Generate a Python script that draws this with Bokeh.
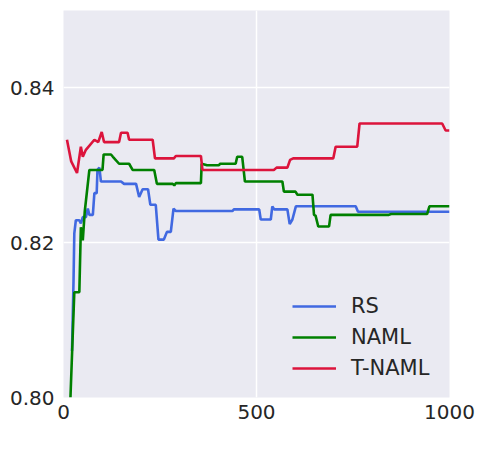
from bokeh.plotting import figure
from bokeh.models import Range1d, FixedTicker, Legend, LegendItem, NumeralTickFormatter
from bokeh.embed import file_html
from bokeh.resources import INLINE

rs_x = [22, 26, 28, 32, 41, 45, 50, 58, 63, 67, 76, 80, 86, 88, 93, 97, 149, 157, 188, 196, 205, 219, 225, 239, 246, 260, 268, 278, 285, 291, 438, 441, 507, 511, 537, 541, 546, 580, 586, 593, 602, 757, 763, 1000]
rs_y = [0.806, 0.8151, 0.8212, 0.8229, 0.8229, 0.8225, 0.8233, 0.8233, 0.8244, 0.8236, 0.8236, 0.8264, 0.8264, 0.8294, 0.8297, 0.8279, 0.8279, 0.8276, 0.8276, 0.8259, 0.8269, 0.8269, 0.8249, 0.8249, 0.8204, 0.8204, 0.8214, 0.8214, 0.8244, 0.8241, 0.8241, 0.8243, 0.8243, 0.8230, 0.8230, 0.8247, 0.8243, 0.8243, 0.8224, 0.8230, 0.8247, 0.8247, 0.8240, 0.8240]

naml_x = [18, 28, 41, 45, 50, 55, 67, 101, 104, 123, 128, 144, 170, 179, 235, 242, 283, 287, 291, 356, 358, 372, 402, 406, 446, 450, 463, 470, 567, 571, 601, 606, 645, 649, 653, 660, 688, 692, 843, 849, 942, 948, 1000]
naml_y = [0.800, 0.8136, 0.8136, 0.8220, 0.8203, 0.8240, 0.8294, 0.8294, 0.8314, 0.8314, 0.8311, 0.8302, 0.8302, 0.8294, 0.8294, 0.8276, 0.8276, 0.8274, 0.8277, 0.8277, 0.8302, 0.8300, 0.8300, 0.8302, 0.8302, 0.8311, 0.8311, 0.8279, 0.8279, 0.8266, 0.8266, 0.8262, 0.8262, 0.8236, 0.8235, 0.8221, 0.8221, 0.8236, 0.8236, 0.8237, 0.8237, 0.8247, 0.8247]

tnaml_x = [9, 20, 35, 45, 50, 58, 80, 90, 99, 105, 144, 149, 166, 170, 231, 237, 286, 291, 356, 360, 545, 552, 580, 587, 595, 699, 705, 761, 767, 981, 990, 1000]
tnaml_y = [0.8333, 0.8305, 0.8290, 0.8324, 0.8311, 0.8320, 0.8333, 0.8330, 0.8343, 0.8330, 0.8330, 0.8342, 0.8342, 0.8333, 0.8333, 0.8309, 0.8309, 0.8312, 0.8312, 0.8294, 0.8294, 0.8297, 0.8297, 0.8307, 0.8309, 0.8309, 0.8324, 0.8324, 0.8354, 0.8354, 0.8345, 0.8345]

x_ticks = [0, 500, 1000]
y_ticks = [0.80, 0.82, 0.84]

p = figure(width=492, height=453, output_backend="svg", toolbar_location=None,
           x_range=Range1d(0, 1000), y_range=Range1d(0.80, 0.85),
           min_border_left=63, min_border_right=43, min_border_top=10, min_border_bottom=56)
p.background_fill_color = "#EAEAF2"
p.border_fill_color = "white"
p.outline_line_color = None

for ax in (p.xaxis[0], p.yaxis[0]):
    ax.axis_line_color = None
    ax.major_tick_line_color = None
    ax.minor_tick_line_color = None
    ax.major_tick_out = 0
    ax.major_tick_in = 0
    ax.major_label_text_font = "DejaVu Sans"
    ax.major_label_text_font_size = "20px"
    ax.major_label_text_color = "#262626"
p.xaxis[0].major_label_standoff = 7
p.yaxis[0].major_label_standoff = 9
p.xaxis[0].ticker = FixedTicker(ticks=x_ticks)
p.yaxis[0].ticker = FixedTicker(ticks=y_ticks)
p.yaxis[0].formatter = NumeralTickFormatter(format="0.00")

p.xgrid.grid_line_color = "white"
p.ygrid.grid_line_color = "white"
p.xgrid.grid_line_width = 1.5
p.ygrid.grid_line_width = 1.5
p.xgrid.ticker = FixedTicker(ticks=x_ticks)
p.ygrid.ticker = FixedTicker(ticks=y_ticks)

r1 = p.line(rs_x, rs_y, line_color="#4169E1", line_width=2.6)
r2 = p.line(naml_x, naml_y, line_color="#008000", line_width=2.6)
r3 = p.line(tnaml_x, tnaml_y, line_color="#DC143C", line_width=2.6)

legend = Legend(items=[LegendItem(label="RS", renderers=[r1]),
                       LegendItem(label="NAML", renderers=[r2]),
                       LegendItem(label="T-NAML", renderers=[r3])],
                location=(229, 14), padding=0, margin=0, spacing=1,
                glyph_width=44, glyph_height=30, label_height=30, label_standoff=15,
                border_line_color=None, background_fill_alpha=0,
                label_text_font="DejaVu Sans", label_text_font_size="21px",
                label_text_color="#262626")
p.add_layout(legend, "center")

open("out.html", "w").write(file_html(p, INLINE))
